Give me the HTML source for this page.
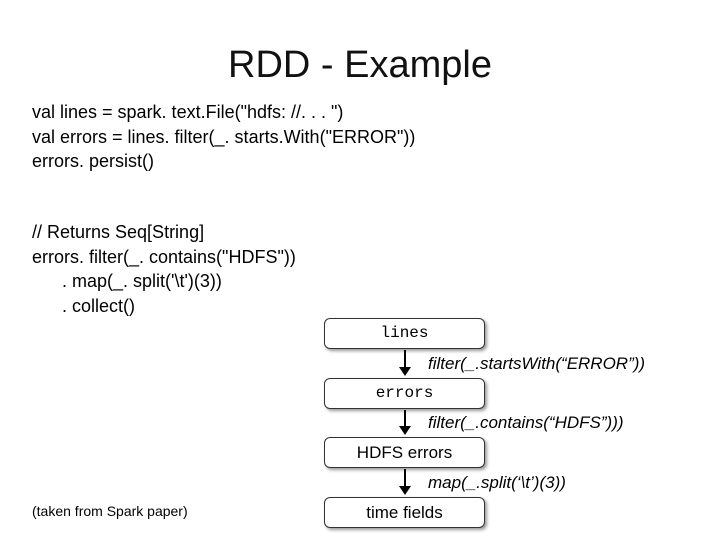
<!DOCTYPE html>
<html><head><style>
body{margin:0;width:720px;height:540px;background:#fff;position:relative;font-family:"Liberation Sans",sans-serif;overflow:hidden}
.t{position:absolute;left:0;width:720px;text-align:center;top:44px;font-size:38px;color:#111}
.c{position:absolute;left:32px;font-size:18px;line-height:24.5px;color:#000;white-space:pre}
.b{position:absolute;left:324px;width:159px;height:29px;border:1.5px solid #333;border-radius:6px;box-shadow:2px 2px 3px #999;text-align:center;line-height:29px;font-size:17px;background:#fff}
.m{font-family:"Liberation Mono",monospace;font-size:16px}
.l{position:absolute;left:428px;font-style:italic;font-size:17px}
.a{position:absolute;left:404px;width:2px;background:#000}
.h{position:absolute;left:399px;width:0;height:0;border-left:6px solid transparent;border-right:6px solid transparent;border-top:9px solid #000}
</style></head><body>
<div class="t">RDD - Example</div>
<div class="c" style="top:100px">val lines = spark. text.File("hdfs: //. . . ")
val errors = lines. filter(_. starts.With("ERROR"))
errors. persist()</div>
<div class="c" style="top:220px">// Returns Seq[String]
errors. filter(_. contains("HDFS"))
      . map(_. split('\t')(3))
      . collect()</div>
<div style="position:absolute;left:32px;top:503px;font-size:14px">(taken from Spark paper)</div>
<div class="b m" style="top:318px">lines</div>
<div class="b m" style="top:378px">errors</div>
<div class="b" style="top:437px">HDFS errors</div>
<div class="b" style="top:497px">time fields</div>
<div class="a" style="top:350px;height:18px"></div><div class="h" style="top:367px"></div>
<div class="a" style="top:410px;height:17px"></div><div class="h" style="top:426px"></div>
<div class="a" style="top:469px;height:18px"></div><div class="h" style="top:486px"></div>
<div class="l" style="top:354px">filter(_.startsWith(“ERROR”))</div>
<div class="l" style="top:413px">filter(_.contains(“HDFS”)))</div>
<div class="l" style="top:473px">map(_.split(‘\t’)(3))</div>
</body></html>
